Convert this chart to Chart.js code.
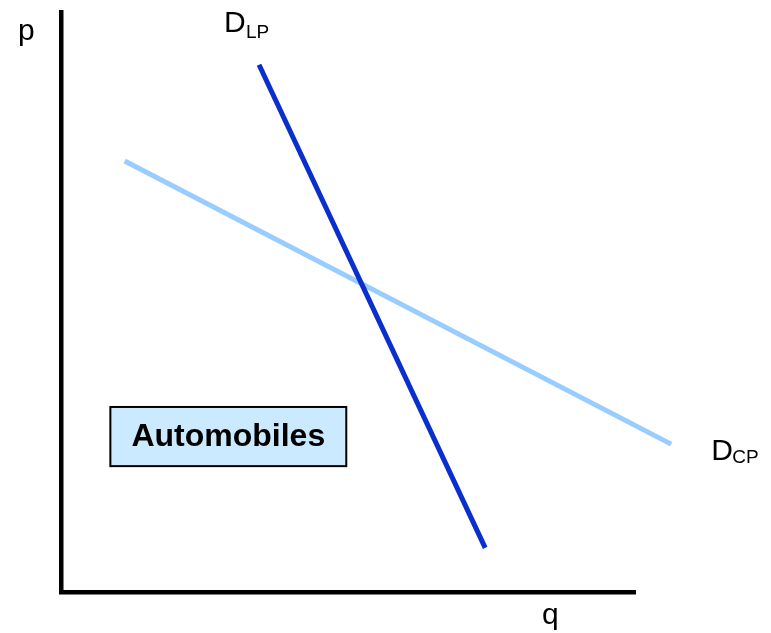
<!DOCTYPE html>
<html>
<head>
<meta charset="utf-8">
<script src="https://cdn.jsdelivr.net/npm/chart.js@4/dist/chart.umd.min.js"></script>
<style>
  html, body { margin: 0; padding: 0; background: #ffffff; }
  #c { display: block; }
</style>
</head>
<body>
<canvas id="c" width="771" height="633"></canvas>
<script>
// ---- data (quantity q, price p) ----
const seriesNames = ["D_LP", "D_CP"];
const lpQ = [34.5, 73.9];
const lpP = [90.9, 7.6];
const cpQ = [11.1, 106.3];
const cpP = [74.3, 25.5];
const axisLabels = ["p", "q"];
const boxLabel = "Automobiles";

const FONT = '"Liberation Sans", Arial, Helvetica, sans-serif';

function pts(qs, ps) { return qs.map((q, i) => ({ x: q, y: ps[i] })); }

const labelPlugin = {
  id: 'labels',
  afterDraw(chart) {
    const ctx = chart.ctx;
    const xs = chart.scales.x, ys = chart.scales.y;
    const area = chart.chartArea;
    ctx.save();
    ctx.fillStyle = '#000';
    ctx.textBaseline = 'alphabetic';
    ctx.textAlign = 'left';

    // axis labels
    ctx.font = '30px ' + FONT;
    ctx.fillText(axisLabels[0], area.left - 43, area.top + 28);
    ctx.fillText(axisLabels[1], xs.getPixelForValue(83.8), area.bottom + 32);

    // D_LP label near top of the line
    const lx = xs.getPixelForValue(lpQ[0]);
    const ly = ys.getPixelForValue(lpP[0]);
    ctx.font = '30px ' + FONT;
    ctx.fillText('D', lx - 35, ly - 33);
    ctx.font = '19px ' + FONT;
    ctx.fillText('LP', lx - 13, ly - 27);

    // D_CP label near end of the line
    const cx = xs.getPixelForValue(cpQ[1]);
    const cy = ys.getPixelForValue(cpP[1]);
    ctx.font = '30px ' + FONT;
    ctx.fillText('D', cx + 40, cy + 16);
    ctx.font = '19px ' + FONT;
    ctx.fillText('CP', cx + 61, cy + 19);

    // Automobiles box
    const bx0 = xs.getPixelForValue(8.6), bx1 = xs.getPixelForValue(49.7);
    const by0 = ys.getPixelForValue(31.9), by1 = ys.getPixelForValue(21.7);
    ctx.fillStyle = '#cceaff';
    ctx.fillRect(bx0, by0, bx1 - bx0, by1 - by0);
    ctx.strokeStyle = '#000';
    ctx.lineWidth = 2;
    ctx.strokeRect(bx0, by0, bx1 - bx0, by1 - by0);
    ctx.fillStyle = '#000';
    ctx.font = 'bold 32px ' + FONT;
    ctx.textAlign = 'center';
    ctx.textBaseline = 'middle';
    ctx.fillText(boxLabel, (bx0 + bx1) / 2, (by0 + by1) / 2 + 1);
    ctx.restore();
  }
};

new Chart(document.getElementById('c'), {
  type: 'scatter',
  data: {
    datasets: [
      {
        label: seriesNames[0],
        data: pts(lpQ, lpP),
        showLine: true,
        borderColor: '#0a2fcc',
        borderWidth: 5,
        pointRadius: 0,
        borderCapStyle: 'butt',
        clip: false
      },
      {
        label: seriesNames[1],
        data: pts(cpQ, cpP),
        showLine: true,
        borderColor: '#99ccff',
        borderWidth: 5,
        pointRadius: 0,
        borderCapStyle: 'butt',
        clip: false
      }
    ]
  },
  options: {
    responsive: false,
    animation: false,
    devicePixelRatio: 1,
    layout: { padding: { left: 61, right: 136, top: 12, bottom: 41 } },
    plugins: { legend: { display: false }, tooltip: { enabled: false } },
    scales: {
      x: {
        type: 'linear', min: 0, max: 100,
        ticks: { display: false },
        grid: { display: false, drawTicks: false },
        border: { display: true, color: '#000', width: 4.5 },
        afterFit: s => { s.height = 0; }
      },
      y: {
        type: 'linear', min: 0, max: 100,
        ticks: { display: false },
        grid: { display: false, drawTicks: false },
        border: { display: true, color: '#000', width: 4.5 },
        afterFit: s => { s.width = 0; }
      }
    }
  },
  plugins: [labelPlugin]
});
</script>
</body>
</html>
